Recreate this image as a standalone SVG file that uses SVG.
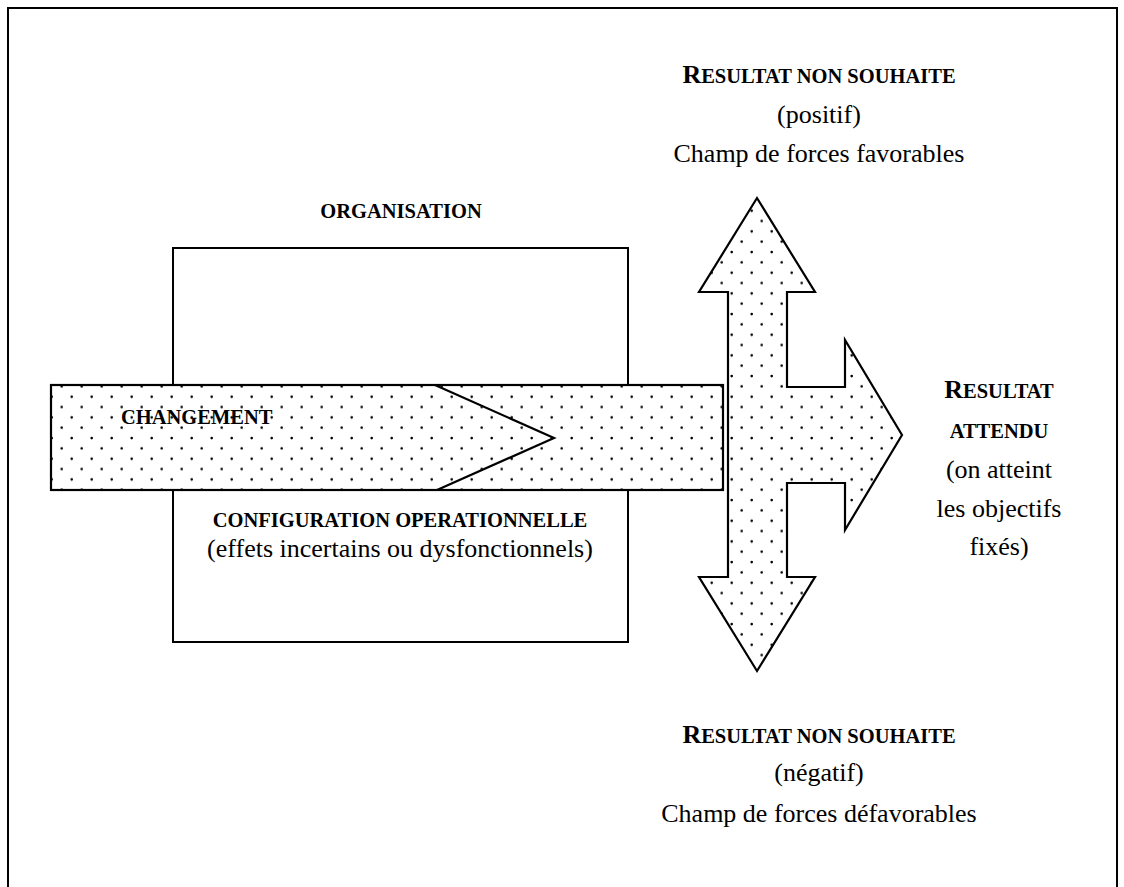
<svg xmlns="http://www.w3.org/2000/svg" width="1124" height="887" viewBox="0 0 1124 887">
  <style>
    .frame { fill: none; stroke: #000; stroke-width: 2; }
    .shape { stroke: #000; stroke-width: 2.2; stroke-linejoin: miter; }
    .dotted { fill: url(#dots); }
    .box { fill: none; stroke: #000; stroke-width: 2; }
    .h { font-family: "Liberation Serif", "Times New Roman", serif; font-weight: bold; font-size: 20.5px; fill: #000; }
    .h .big { font-size: 26px; }
    .t { font-family: "Liberation Serif", "Times New Roman", serif; font-size: 26px; fill: #000; }
  </style>
  <defs>
    <!-- stippled fill used for the flow arrows -->
    <pattern id="dots" patternUnits="userSpaceOnUse" x="0" y="0" width="20" height="20.67">
      <rect width="20" height="20.67" fill="#fff"/>
      <circle cx="11.7" cy="4" r="1.3" fill="#000"/>
      <circle cx="1.7" cy="14.3" r="1.3" fill="#000"/>
    </pattern>
  </defs>

  <rect width="1124" height="887" fill="#fff"/>

  <!-- outer frame -->
  <path class="frame" d="M8,887 L8,8 L1117,8 L1117,887"/>

  <!-- organisation block -->
  <g id="organisation">
    <rect class="box" x="173" y="248" width="455" height="394"/>
    <text class="h" x="401" y="218" text-anchor="middle">ORGANISATION</text>
    <text class="h" x="400" y="527" text-anchor="middle">CONFIGURATION OPERATIONNELLE</text>
    <text class="t" x="400" y="557" text-anchor="middle">(effets incertains ou dysfonctionnels)</text>
  </g>

  <!-- change band crossing the organisation -->
  <g id="changement">
    <rect class="shape dotted" x="51" y="385" width="672" height="105"/>
    <polyline class="shape" fill="none" points="435,385 554,438 437,490"/>
    <text class="h" x="121" y="424">CHANGEMENT</text>
  </g>

  <!-- three-way outcome arrow -->
  <g id="resultats">
    <polygon class="shape dotted" points="757,198 815,292 787,292 787,387 845,387 845,340 902,435 845,530 845,483 787,483 787,577 815,577 757,671 699,577 728,577 728,292 699,292"/>
  </g>

  <g id="resultat-positif">
    <text class="h" x="819" y="83" text-anchor="middle"><tspan class="big">R</tspan>ESULTAT NON SOUHAITE</text>
    <text class="t" x="819" y="123" text-anchor="middle">(positif)</text>
    <text class="t" x="819" y="162" text-anchor="middle">Champ de forces favorables</text>
  </g>

  <g id="resultat-attendu">
    <text class="h" x="999" y="398" text-anchor="middle"><tspan class="big">R</tspan>ESULTAT</text>
    <text class="h" x="999" y="438" text-anchor="middle">ATTENDU</text>
    <text class="t" x="999" y="478" text-anchor="middle">(on atteint</text>
    <text class="t" x="999" y="517" text-anchor="middle">les objectifs</text>
    <text class="t" x="999" y="555" text-anchor="middle">fixés)</text>
  </g>

  <g id="resultat-negatif">
    <text class="h" x="819" y="743" text-anchor="middle"><tspan class="big">R</tspan>ESULTAT NON SOUHAITE</text>
    <text class="t" x="819" y="781" text-anchor="middle">(négatif)</text>
    <text class="t" x="819" y="822" text-anchor="middle">Champ de forces défavorables</text>
  </g>
</svg>
